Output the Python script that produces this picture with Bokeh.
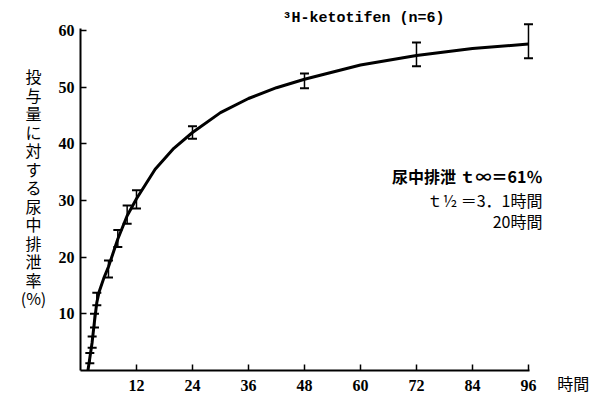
from bokeh.plotting import figure
from bokeh.models import ColumnDataSource, Whisker, TeeHead, Label, FixedTicker, Range1d
from bokeh.embed import file_html
from bokeh.resources import INLINE

# --- data ---
times = [2, 2.5, 3, 3.5, 6, 8, 10, 12, 24, 48, 72, 96]
means = [2.2, 5.0, 8.8, 12.6, 17.9, 23.3, 27.5, 30.2, 42.0, 51.1, 55.8, 58.1]
errors = [0.9, 1.0, 1.2, 1.1, 1.5, 1.5, 1.6, 1.6, 1.1, 1.3, 2.1, 3.0]

curve_t = [1.6, 2, 2.5, 3, 3.5, 4, 5, 6, 8, 10, 12, 16, 20, 24, 30, 36, 42, 48, 60, 72, 84, 96]
curve_y = [0, 2.2, 5.0, 8.7, 12.0, 13.9, 16.3, 18.3, 23.2, 27.3, 30.3, 35.5, 39.2, 42.0, 45.5, 48.0, 49.9, 51.4, 53.9, 55.6, 56.8, 57.6]

x_ticks = [12, 24, 36, 48, 60, 72, 84, 96]
y_ticks = [10, 20, 30, 40, 50, 60]

title_text = "³H-ketotifen (n=6)"
y_label_text = "投与量に対する尿中排泄率(%)"
x_label_text = "時間"
note_lines = ["尿中排泄 ｔ∞＝61％", "ｔ½ ＝3．1時間", "20時間"]

# --- figure: frame fills the canvas, axes pinned at data 0 ---
p = figure(width=595, height=401, output_backend="svg", toolbar_location=None,
           x_range=Range1d(-17.14, 110.36), y_range=Range1d(-5.47, 65.29),
           min_border_left=0, min_border_right=0, min_border_top=0, min_border_bottom=0)
p.outline_line_color = None
p.xgrid.visible = False
p.ygrid.visible = False
p.background_fill_color = "white"
p.border_fill_color = "white"

for ax in (p.xaxis[0], p.yaxis[0]):
    ax.fixed_location = 0
    ax.axis_line_width = 2
    ax.axis_line_color = "black"
    ax.major_tick_in = 6
    ax.major_tick_out = 0
    ax.major_tick_line_width = 1.5
    ax.minor_tick_line_color = None
    ax.major_label_text_font = "Liberation Serif"
    ax.major_label_text_font_style = "bold"
    ax.major_label_text_font_size = "16px"
    ax.major_label_text_color = "black"

p.xaxis[0].ticker = FixedTicker(ticks=x_ticks)
p.yaxis[0].ticker = FixedTicker(ticks=y_ticks)
p.xaxis[0].bounds = (0, 96.3)
p.yaxis[0].bounds = (0, 60.35)
p.xaxis[0].major_label_standoff = 9
p.yaxis[0].major_label_standoff = 6

src = ColumnDataSource(dict(t=times, m=means,
                            lo=[m - e for m, e in zip(means, errors)],
                            hi=[m + e for m, e in zip(means, errors)]))

p.line(curve_t, curve_y, line_color="black", line_width=3)

wh = Whisker(source=src, base="t", lower="lo", upper="hi", dimension="height",
             line_color="black", line_width=1.5,
             upper_head=TeeHead(size=9, line_width=2, line_color="black"),
             lower_head=TeeHead(size=9, line_width=2, line_color="black"))
p.add_layout(wh)

# title
p.add_layout(Label(x=43.28, y=62.12, text=title_text,
                   text_font="Liberation Mono", text_font_style="bold", text_font_size="15px",
                   text_align="left", text_baseline="middle", text_color="black"))

# vertical y-axis label
p.add_layout(Label(x=-10.07, y=54.0,
                   text="\n".join(list(y_label_text[:-3]) + [y_label_text[-3:]]),
                   text_font="Noto Sans CJK JP", text_font_size="16px",
                   text_line_height=0.77, text_align="center", text_baseline="top",
                   text_color="black"))

# x-axis unit label
p.add_layout(Label(x=105.6, y=-2.29, text=x_label_text,
                   text_font="Noto Sans CJK JP", text_font_size="16px",
                   text_align="center", text_baseline="middle", text_color="black"))

# notes
note_y = [34.4, 30.0, 26.3]
for i, (txt, yy) in enumerate(zip(note_lines, note_y)):
    p.add_layout(Label(x=99.0, y=yy, text=txt,
                       text_font="Noto Sans CJK JP", text_font_size="16px",
                       text_font_style="bold" if i == 0 else "normal",
                       text_align="right", text_baseline="middle", text_color="black"))

open("out.html", "w").write(file_html(p, INLINE))
